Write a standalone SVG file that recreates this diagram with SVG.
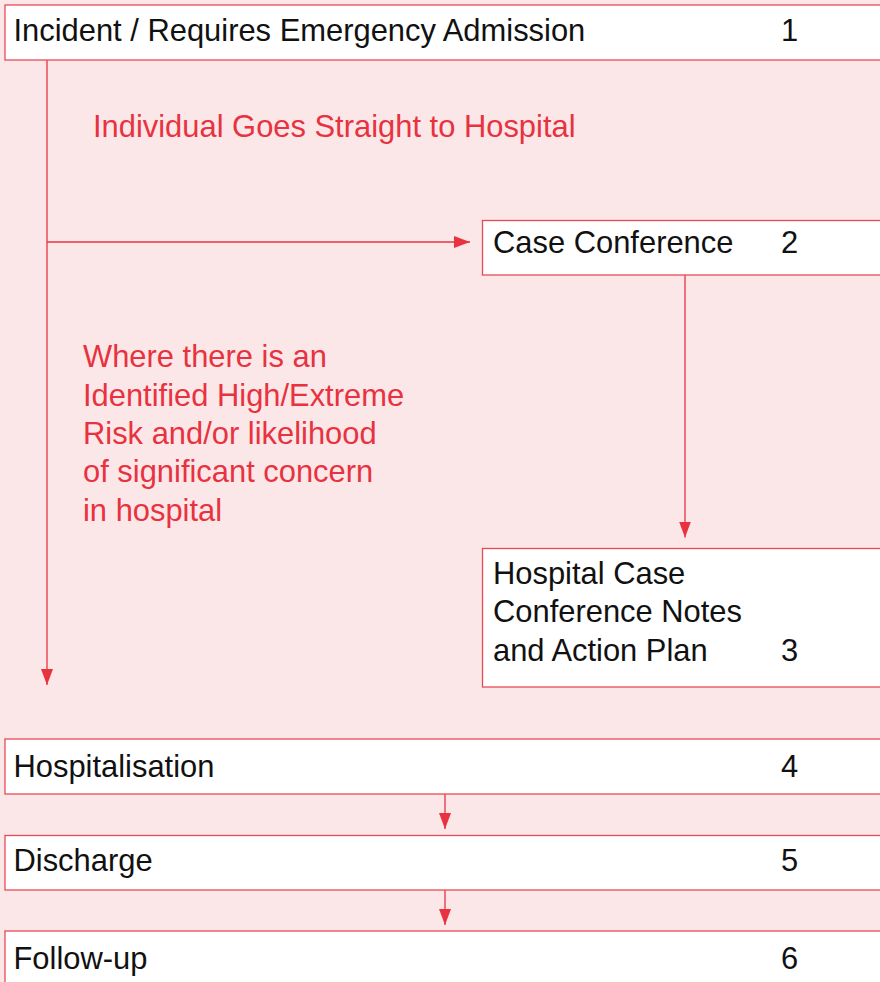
<svg xmlns="http://www.w3.org/2000/svg" width="880" height="982" viewBox="0 0 880 982">
<style>
.box{fill:#ffffff;stroke:#e84a55;stroke-width:1.3}
.t{font-family:"Liberation Sans",Arial,Helvetica,sans-serif;font-size:30.9px;fill:#111111}
.lbl{font-family:"Liberation Sans",Arial,Helvetica,sans-serif;font-size:30.9px;fill:#e8323f}
.con{fill:none;stroke:#e8323f;stroke-width:1.3}
</style>
<defs>
<marker id="ah" markerUnits="userSpaceOnUse" markerWidth="16" markerHeight="12" refX="16" refY="6" orient="auto">
<path d="M0,0 L16,6 L0,12 Z" fill="#e8323f"/>
</marker>
</defs>
<rect x="0" y="0" width="880" height="982" fill="#fbe7e8"/>
<g id="connectors">
<line class="con" x1="47" y1="60" x2="47" y2="685" marker-end="url(#ah)"/>
<line class="con" x1="47" y1="242" x2="470" y2="242" marker-end="url(#ah)"/>
<line class="con" x1="685" y1="275" x2="685" y2="537.5" marker-end="url(#ah)"/>
<line class="con" x1="445" y1="794" x2="445" y2="829" marker-end="url(#ah)"/>
<line class="con" x1="445" y1="890" x2="445" y2="925" marker-end="url(#ah)"/>
</g>
<g id="label-straight">
<text class="lbl" x="93" y="137">Individual Goes Straight to Hospital</text>
</g>
<g id="label-risk">
<text class="lbl" x="83" y="367">Where there is an</text>
<text class="lbl" x="83" y="405.5">Identified High/Extreme</text>
<text class="lbl" x="83" y="443.5">Risk and/or likelihood</text>
<text class="lbl" x="83" y="482">of significant concern</text>
<text class="lbl" x="83" y="520.5">in hospital</text>
</g>
<g id="node1">
<rect class="box" x="5" y="5" width="885" height="55"/>
<text class="t" x="13.5" y="41">Incident / Requires Emergency Admission</text>
<text class="t" x="781" y="41">1</text>
</g>
<g id="node2">
<rect class="box" x="482.5" y="220.5" width="410" height="54.5"/>
<text class="t" x="493" y="252.5">Case Conference</text>
<text class="t" x="781" y="252.5">2</text>
</g>
<g id="node3">
<rect class="box" x="482.5" y="548.5" width="410" height="138.5"/>
<text class="t" x="493" y="583.5">Hospital Case</text>
<text class="t" x="493" y="622">Conference Notes</text>
<text class="t" x="493" y="661">and Action Plan</text>
<text class="t" x="781" y="661">3</text>
</g>
<g id="node4">
<rect class="box" x="5" y="739" width="885" height="55"/>
<text class="t" x="13.5" y="777">Hospitalisation</text>
<text class="t" x="781" y="777">4</text>
</g>
<g id="node5">
<rect class="box" x="5" y="835.5" width="885" height="54.5"/>
<text class="t" x="13.5" y="871">Discharge</text>
<text class="t" x="781" y="871">5</text>
</g>
<g id="node6">
<rect class="box" x="5" y="931" width="885" height="60"/>
<text class="t" x="13.5" y="968.5">Follow-up</text>
<text class="t" x="781" y="968.5">6</text>
</g>
</svg>
